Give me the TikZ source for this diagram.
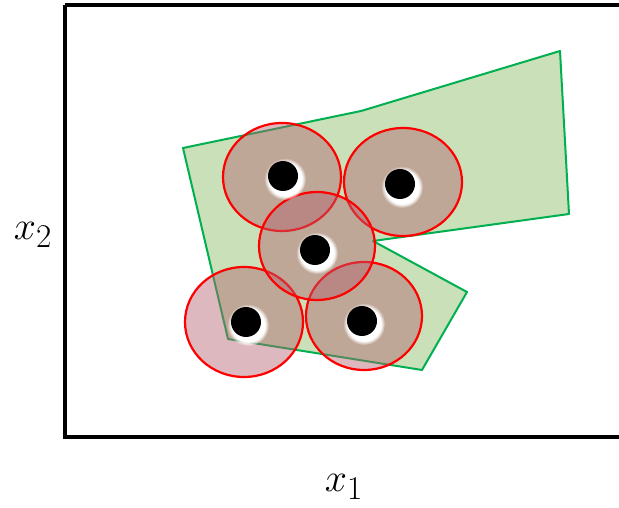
\documentclass[tikz,border=0pt]{standalone}
\usetikzlibrary{fadings}
\begin{document}
\begin{tikzpicture}[x=1pt,y=-1pt,
  frame/.style={draw=black,line width=3.2pt},
  region/.style={draw={rgb,255:red,0;green,176;blue,80},fill={rgb,255:red,201;green,224;blue,185},line width=2pt,line join=round},
  ball/.style={fill={rgb,255:red,179;green,96;blue,109},fill opacity=0.445,draw=red,draw opacity=1,line width=2.2pt},
  dot/.style={circle,fill=black,inner sep=0pt,minimum size=30pt},
  lbl/.style={font=\Huge,scale=1.6,inner sep=0pt}]
\useasboundingbox (0,0) rectangle (619,508);
\clip (0,0) rectangle (619,508);
\fill[white] (0,0) rectangle (619,508);
% frame
\draw[frame] (65,5) -- (630,5) (65,5) -- (65,437) -- (630,437);
% region
\draw[region] (183,148) -- (361,111) -- (560,51) -- (569,214) -- (373,241) -- (467,292) -- (422,370) -- (228,339) -- cycle;
% balls
\path[ball] (282,177) ellipse [x radius=59,y radius=54];
\path[ball] (403,182) ellipse [x radius=59,y radius=54];
\path[ball] (244,322) ellipse [x radius=59,y radius=55];
\path[ball] (364,316) ellipse [x radius=58,y radius=54];
\path[ball] (317,246) ellipse [x radius=58,y radius=54];
% glows and dots
\foreach \n/\px/\py in {a/283/176,b/400/184,c/315/250,d/246/322,e/362/321}{
  \fill[white,path fading=circle with fuzzy edge 20 percent] (\px+2,\py+3) circle (21);
  \fill[white,opacity=0.6] (\px+1.5,\py+2) circle (16);
  \node[dot] (\n) at (\px,\py) {};
}
% labels
\node[lbl] (x2) at (33,235) {$x_2$};
\node[lbl] (x1) at (344,487) {$x_1$};
\end{tikzpicture}
\end{document}
